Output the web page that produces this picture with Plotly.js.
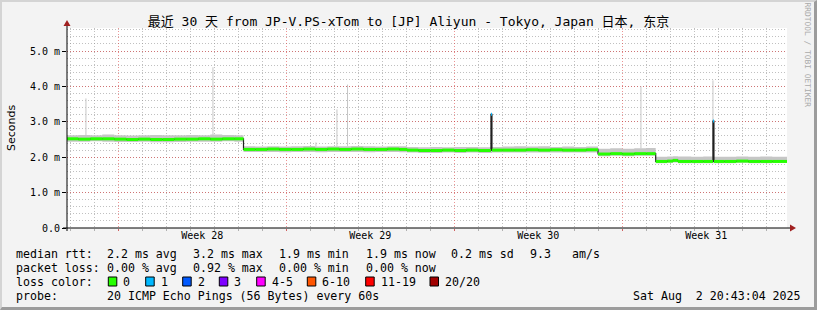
<!DOCTYPE html>
<html><head><meta charset="utf-8">
<script src="https://cdn.plot.ly/plotly-3.0.1.min.js"></script>
<style>
html,body{margin:0;padding:0;background:#f3f3f3;}
#wrap{position:relative;width:817px;height:310px;overflow:hidden;}
#chart{width:817px;height:310px;}
#frame{position:absolute;left:0;top:0;width:817px;height:310px;box-sizing:border-box;border-top:2px solid #d4d4d4;border-left:2px solid #d4d4d4;border-right:3px solid #9c9c9c;border-bottom:3px solid #9c9c9c;pointer-events:none;}
</style></head>
<body><div id="wrap"><div id="chart"></div><div id="frame"></div></div>
<script>
// ---------------- data ----------------
const startTime = '2025-07-03 20:43:04';
const endTime = '2025-08-02 20:43:04';
const sampleTimes = [
 '2025-07-03 20:43','2025-07-04 08:00','2025-07-04 20:00','2025-07-05 08:00','2025-07-05 20:00',
 '2025-07-06 08:00','2025-07-06 20:00','2025-07-07 08:00','2025-07-07 20:00','2025-07-08 08:00',
 '2025-07-08 20:00','2025-07-09 08:00','2025-07-09 20:00','2025-07-10 08:00','2025-07-10 20:00',
 '2025-07-11 05:13','2025-07-11 17:00','2025-07-12 05:00','2025-07-12 17:00','2025-07-13 05:00',
 '2025-07-13 17:00','2025-07-14 05:00','2025-07-14 17:00','2025-07-15 05:00','2025-07-15 17:00',
 '2025-07-16 05:00','2025-07-16 17:00','2025-07-17 05:00','2025-07-17 17:00','2025-07-18 00:43',
 '2025-07-18 12:00','2025-07-19 00:00','2025-07-19 12:00','2025-07-20 00:00','2025-07-20 12:00',
 '2025-07-21 00:00','2025-07-21 12:40','2025-07-21 13:40','2025-07-22 00:00','2025-07-22 12:00',
 '2025-07-23 00:00','2025-07-23 12:00','2025-07-24 00:00','2025-07-24 12:00','2025-07-25 00:00',
 '2025-07-25 12:00','2025-07-25 23:43','2025-07-26 12:00','2025-07-27 00:00','2025-07-27 12:00',
 '2025-07-28 00:00','2025-07-28 09:25','2025-07-28 21:00','2025-07-29 02:40','2025-07-29 07:40',
 '2025-07-29 21:00','2025-07-30 09:00','2025-07-30 18:40','2025-07-30 19:40','2025-07-31 06:00',
 '2025-07-31 18:00','2025-08-01 06:00','2025-08-01 18:00','2025-08-02 06:00'
];
const medianRtt = [
 2.52,2.51,2.52,2.52,2.51, 2.50,2.51,2.50,2.50,2.51, 2.51,2.52,2.51,2.52,2.52,
 2.22,2.22,2.23,2.22,2.22, 2.23,2.22,2.23,2.22,2.23, 2.22,2.22,2.23,2.22,2.20,
 2.19,2.19,2.20,2.19,2.20, 2.19,3.21,2.20,2.20,2.20, 2.21,2.20,2.21,2.20,2.20,
 2.21,2.09,2.10,2.09,2.10, 2.10,1.88,1.89,1.91,1.88, 1.88,1.88,3.02,1.88,1.88,
 1.89,1.88,1.88,1.88
];
const smokeLow = [
 2.44,2.44,2.45,2.44,2.43, 2.43,2.44,2.42,2.42,2.43, 2.44,2.44,2.44,2.45,2.44,
 2.15,2.15,2.15,2.14,2.15, 2.15,2.14,2.15,2.15,2.15, 2.14,2.15,2.15,2.14,2.13,
 2.12,2.12,2.13,2.12,2.13, 2.12,2.12,2.13,2.13,2.13, 2.13,2.13,2.13,2.13,2.13,
 2.13,2.03,2.04,2.03,2.04, 2.04,1.83,1.84,1.85,1.83, 1.83,1.83,1.83,1.83,1.83,
 1.84,1.83,1.83,1.84
];
const smokeHigh = [
 2.62,2.63,2.62,2.64,2.62, 2.61,2.62,2.63,2.62,2.62, 2.63,2.62,2.64,2.63,2.62,
 2.31,2.30,2.31,2.30,2.31, 2.32,2.30,2.31,2.31,2.32, 2.31,2.30,2.31,2.31,2.29,
 2.28,2.29,2.28,2.29,2.29, 2.28,2.29,2.29,2.30,2.31, 2.30,2.31,2.29,2.30,2.29,
 2.30,2.24,2.25,2.24,2.25, 2.26,2.01,2.02,2.03,2.02, 2.01,2.02,2.02,2.01,2.01,
 2.02,2.01,2.02,2.01
];
const lossCount = [
 0,0,0,0,0, 0,0,0,0,0, 0,0,0,0,0,
 0,0,0,0,0, 0,0,0,0,0, 0,0,0,0,0,
 0,0,0,0,0, 0,1,0,0,0, 0,0,0,0,0,
 0,0,0,0,0, 0,0,0,0,0, 0,0,1,0,0,
 0,0,0,0
];
const spikeTimes = ['2025-07-04 15:40','2025-07-09 22:40','2025-07-14 05:40','2025-07-15 02:40','2025-07-15 13:15','2025-07-27 18:40','2025-07-30 18:40'];
const spikeBases = [2.62, 2.63, 2.30, 2.31, 2.32, 2.25, 2.02];
const spikeTops  = [3.66, 4.54, 2.42, 3.35, 4.05, 4.00, 4.17];

const weekTickTimes = ['2025-07-09 12:00','2025-07-16 12:00','2025-07-23 12:00','2025-07-30 12:00'];
const weekTickLabels = ['Week 28','Week 29','Week 30','Week 31'];
const yTickVals = [0,1,2,3,4,5];
const yTickLabels = ['0.0','1.0 m','2.0 m','3.0 m','4.0 m','5.0 m'];

const lossLabels = ['0','1','2','3','4-5','6-10','11-19','20/20'];
const lossColors = ['#26ff00','#00b8ff','#0059ff','#7e00ff','#ff00ff','#ff5500','#ff0000','#a10000'];
const rttStats = ['median rtt:','2.2 ms avg','3.2 ms max','1.9 ms min','1.9 ms now','0.2 ms sd','9.3','am/s'];
const lossStats = ['packet loss:','0.00 % avg','0.92 % max','0.00 % min','0.00 % now'];
const probeText = ['probe:','20 ICMP Echo Pings (56 Bytes) every 60s'];
const dateText = 'Sat Aug  2 20:43:04 2025';
const titleText = '最近 30 天 from JP-V.PS-xTom to [JP] Aliyun - Tokyo, Japan 日本, 东京';

// ---------------- layout helpers ----------------
const W = 817, H = 310, L = 67, R = 30, T = 28, B = 82;
const PW = W - L - R, PH = H - T - B;
const px = x => (x - L) / PW;
const py = y => (H - B - y) / PH;
const MONO = 'DejaVu Sans Mono, monospace';
const DAY = 86400000;

const tAll = sampleTimes.concat([endTime]);
const n = sampleTimes.length;
const medStep = medianRtt.concat([medianRtt[n-1]]);
const loStep = smokeLow.concat([smokeLow[n-1]]);
const hiStep = smokeHigh.concat([smokeHigh[n-1]]);

function lossSegments(cls){
  const x = [], y = [];
  for (let i = 0; i < n; i++) {
    if (lossCount[i] === cls) { x.push(tAll[i], tAll[i+1], null); y.push(medianRtt[i], medianRtt[i], null); }
  }
  return {x, y};
}
const spX = [], spY = [];
spikeTimes.forEach((t, i) => { spX.push(t, t, null); spY.push(spikeBases[i], spikeTops[i], null); });

const g0 = lossSegments(0), g1 = lossSegments(1);

const traces = [
  {x: tAll, y: loStep, type:'scatter', mode:'lines', line:{shape:'hv', width:0, color:'#c4c4c4'}, hoverinfo:'skip', showlegend:false},
  {x: tAll, y: hiStep, type:'scatter', mode:'lines', fill:'tonexty', fillcolor:'#c6c6c6', line:{shape:'hv', width:0, color:'#c6c6c6'}, hoverinfo:'skip', showlegend:false},
  {x: spX, y: spY, type:'scatter', mode:'lines', line:{width:1, color:'#c6c6c6'}, hoverinfo:'skip', showlegend:false},
  {x: tAll, y: medStep, type:'scatter', mode:'lines', line:{shape:'hv', width:1.2, color:'#202020'}, hoverinfo:'skip', showlegend:false},
  {x: g0.x, y: g0.y, type:'scatter', mode:'lines', line:{width:3, color:lossColors[0]}, hoverinfo:'skip', showlegend:false},
  {x: g1.x, y: g1.y, type:'scatter', mode:'lines', line:{width:3, color:lossColors[1]}, hoverinfo:'skip', showlegend:false, xaxis:'x2'}
];

const gridRed = 'rgba(220,40,40,0.5)';
const gridGray = 'rgba(140,140,140,0.55)';
const dotted = '1px,2px';

const shapes = [
  {type:'line', xref:'paper', yref:'paper', x0:px(63), x1:px(791), y0:0, y1:0, line:{color:'#000', width:1}},
  {type:'line', xref:'paper', yref:'paper', x0:0, x1:0, y0:py(231), y1:py(24), line:{color:'#000', width:1}},
  {type:'path', xref:'paper', yref:'paper', path:`M ${px(67)} ${py(20)} L ${px(63.5)} ${py(26)} L ${px(70.5)} ${py(26)} Z`, fillcolor:'#a02020', line:{width:0}},
  {type:'path', xref:'paper', yref:'paper', path:`M ${px(796)} ${py(228)} L ${px(790)} ${py(224.5)} L ${px(790)} ${py(231.5)} Z`, fillcolor:'#a02020', line:{width:0}}
];

const annotations = [];
function txt(text, x, y, anchor){
  annotations.push({text, x:px(x), y:py(y), xref:'paper', yref:'paper', xanchor:anchor||'left', yanchor:'middle',
    showarrow:false, borderpad:0, borderwidth:0, font:{family:MONO, size:11.6, color:'#000'}});
}
const statX = [16, 107.3, 193.3, 279.3, 365.7, 451, 530, 572.3];
rttStats.forEach((s, i) => txt(s, statX[i], 254.3));
lossStats.forEach((s, i) => txt(s, statX[i], 268.3));
txt('loss color:', 16, 282.1);
const boxX = [108.3, 145.7, 182.7, 219.3, 256.7, 307.3, 365.7, 430];
lossLabels.forEach((s, i) => {
  shapes.push({type:'rect', xref:'paper', yref:'paper', x0:px(boxX[i]), x1:px(boxX[i]+8.5), y0:py(277), y1:py(286), fillcolor:lossColors[i], line:{color:'#000', width:1}});
  txt(s, boxX[i] + 15, 282.1);
});
txt(probeText[0], 16, 296.1);
txt(probeText[1], 107.3, 296.1);
txt(dateText, 800.5, 296.1, 'right');
annotations.push({text:'RRDTOOL / TOBI OETIKER', x:px(807.5), y:py(55), xref:'paper', yref:'paper', xanchor:'center', yanchor:'middle',
  textangle:90, showarrow:false, font:{family:MONO, size:7.9, color:'#aaaaaa'}});

const layout = {
  width: W, height: H,
  margin: {l:L, r:R, t:T, b:B, pad:0},
  paper_bgcolor: 'rgba(0,0,0,0)',
  plot_bgcolor: '#ffffff',
  showlegend: false,
  title: {text: titleText, x:0.5, xref:'container', xanchor:'center', y: 1 - 21/H, yref:'container', yanchor:'middle',
    font:{family:'DejaVu Sans Mono, Noto Sans CJK SC, monospace', size:13, color:'#000'}},
  xaxis: {type:'date', range:[startTime, endTime], tickmode:'linear', tick0:'2025-07-06 00:00', dtick: 7*DAY,
    showgrid:true, gridcolor:gridRed, griddash:dotted, gridwidth:1,
    ticks:'outside', ticklen:2, tickcolor:'#d06060', showticklabels:false, zeroline:false, showline:false, fixedrange:true,
    minor:{tickmode:'linear', tick0:'2025-07-04 00:00', dtick:DAY, showgrid:true, gridcolor:gridGray, griddash:dotted, gridwidth:1, ticks:'outside', ticklen:2, tickcolor:'#b0b0b0'}},
  xaxis2: {type:'date', overlaying:'x', anchor:'y', side:'bottom', range:[startTime, endTime], tickmode:'array', tickvals:weekTickTimes, ticktext:weekTickLabels,
    showgrid:false, ticks:'', zeroline:false, showline:false, fixedrange:true,
    tickfont:{family:MONO, size:10, color:'#000'}},
  yaxis: {range:[0, 5.65], tickmode:'array', tickvals:yTickVals, ticktext:yTickLabels,
    showgrid:true, gridcolor:gridRed, griddash:dotted, gridwidth:1, zeroline:false, showline:false, fixedrange:true,
    ticks:'outside', ticklen:4, tickcolor:'#000', tickfont:{family:MONO, size:10, color:'#000'},
    minor:{tickmode:'linear', tick0:0, dtick:0.2, showgrid:true, gridcolor:gridGray, griddash:dotted, gridwidth:1},
    title:{text:'Seconds', standoff:12, font:{family:'DejaVu Sans, sans-serif', size:11, color:'#000'}}},
  shapes, annotations
};

Plotly.newPlot('chart', traces, layout, {staticPlot:true, displayModeBar:false});
</script></body></html>
